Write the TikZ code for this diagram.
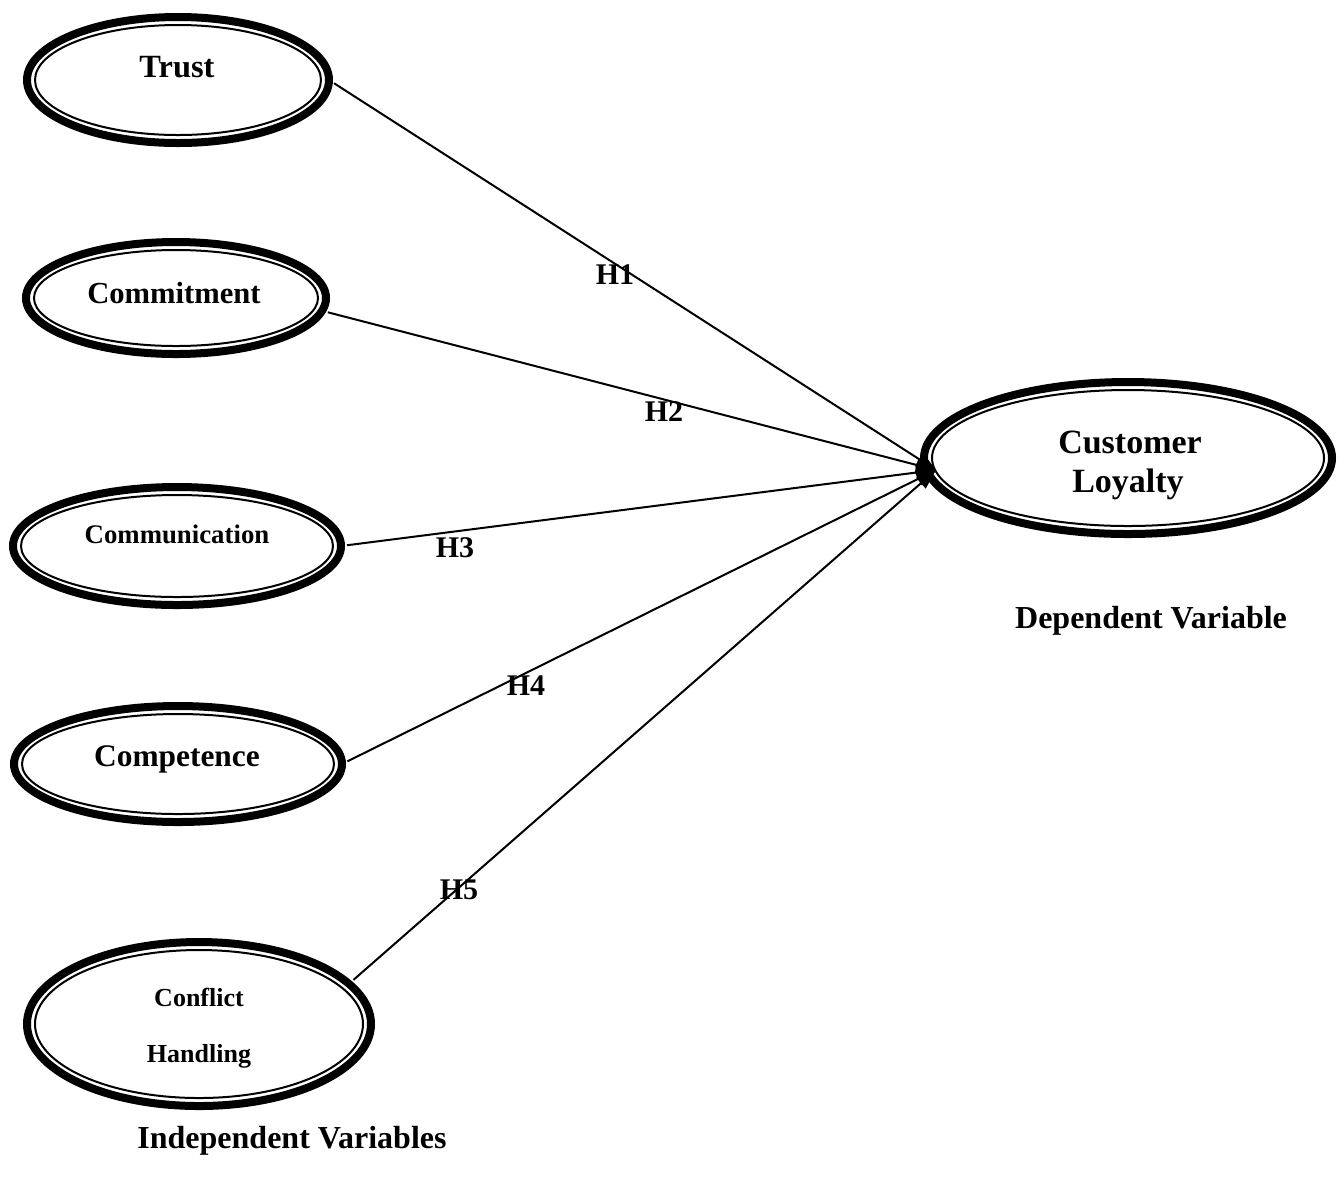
\documentclass[tikz,border=0pt]{standalone}
\usepackage{fontspec}
\setmainfont{Liberation Serif}
\usetikzlibrary{shapes.geometric,arrows.meta}
\tikzset{
  outerell/.style={ellipse, draw, line width=4pt, inner sep=0pt, outer sep=0pt},
  innerell/.style={line width=1pt},
  txt/.style={anchor=base, inner sep=0pt, font=\bfseries},
  hyp/.style={anchor=base, inner sep=0pt, font=\bfseries\fontsize{15pt}{17pt}\selectfont},
  conn/.style={line width=1pt, shorten <=3pt, -{Triangle[length=10pt,width=7pt]}}
}
\begin{document}
\begin{tikzpicture}[x=0.5pt,y=-0.5pt]
\useasboundingbox (0,0) rectangle (1342,1180);
% independent variables
\node[outerell, minimum width=151pt, minimum height=63pt] (trust) at (178,80) {};
\draw[innerell] (trust.center) ellipse [x radius=71.5pt, y radius=27.5pt];
\node[txt, font=\bfseries\fontsize{16.2pt}{19pt}\selectfont] (trustt) at (177,77) {Trust};

\node[outerell, minimum width=150pt, minimum height=56pt] (commit) at (176,298) {};
\draw[innerell] (commit.center) ellipse [x radius=71pt, y radius=24pt];
\node[txt, font=\bfseries\fontsize{15.3pt}{18pt}\selectfont] (committ) at (174,303) {Commitment};

\node[outerell, minimum width=164pt, minimum height=59pt] (commun) at (177,546) {};
\draw[innerell] (commun.center) ellipse [x radius=78pt, y radius=25.5pt];
\node[txt, font=\bfseries\fontsize{13.4pt}{16pt}\selectfont] (communt) at (177,543) {Communication};

\node[outerell, minimum width=164pt, minimum height=58pt] (compet) at (178,764) {};
\draw[innerell] (compet.center) ellipse [x radius=78pt, y radius=25pt];
\node[txt, font=\bfseries\fontsize{15.7pt}{18pt}\selectfont] (compett) at (177,766) {Competence};

\node[outerell, minimum width=172pt, minimum height=82pt] (conflict) at (199,1024) {};
\draw[innerell] (conflict.center) ellipse [x radius=82pt, y radius=37pt];
\node[txt, font=\bfseries\fontsize{13pt}{16pt}\selectfont] (conflictt) at (199,1006) {Conflict};
\node[txt, font=\bfseries\fontsize{13pt}{16pt}\selectfont] (handlingt) at (199,1062) {Handling};

% dependent variable
\node[outerell, minimum width=204pt, minimum height=76pt] (cl) at (1128,458) {};
\draw[innerell] (cl.center) ellipse [x radius=98pt, y radius=34pt];
\node[txt, font=\bfseries\fontsize{17pt}{20pt}\selectfont] (clt1) at (1130,453) {Customer};
\node[txt, font=\bfseries\fontsize{17pt}{20pt}\selectfont] (clt2) at (1128,492) {Loyalty};

% captions
\node[txt, font=\bfseries\fontsize{16pt}{19pt}\selectfont] (dep) at (1151,628) {Dependent Variable};
\node[txt, font=\bfseries\fontsize{16pt}{19pt}\selectfont] (indep) at (292,1148) {Independent Variables};

% hypothesis labels
\node[hyp] (h1) at (615,284) {H1};
\node[hyp] (h2) at (664,421) {H2};
\node[hyp] (h3) at (455,557) {H3};
\node[hyp] (h4) at (526,695) {H4};
\node[hyp] (h5) at (459,899) {H5};

% connectors
\coordinate (hub) at (936,470);
\draw[conn] (trust.east) -- (hub);
\draw[conn] (commit.-5) -- (hub);
\draw[conn] (commun.east) -- (hub);
\draw[conn] (compet.east) -- (hub);
\draw[conn] (conflict.15) -- (hub);
\end{tikzpicture}
\end{document}
